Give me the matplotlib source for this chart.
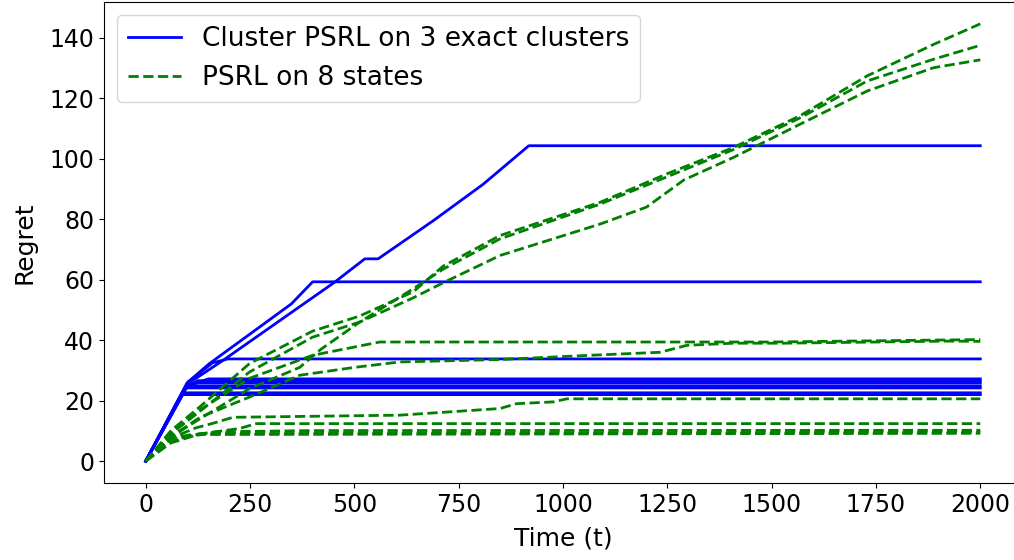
import matplotlib
matplotlib.use("Agg")
import matplotlib.pyplot as plt

# Cluster PSRL runs: (time, regret) breakpoints
cluster_t = [
    [0, 100, 185, 453, 525, 557, 689, 809, 918, 2000],
    [0, 100, 153, 349, 400, 2000],
    [0, 100, 160, 197, 2000],
    [0, 95, 150, 2000],
    [0, 95, 125, 2000],
    [0, 100, 2000],
    [0, 100, 2000],
    [0, 95, 2000],
    [0, 90, 2000],
    [0, 88, 2000],
]
cluster_v = [
    [0, 25.5, 33.3, 59.2, 66.9, 66.9, 79.5, 91.6, 104.3, 104.3],
    [0, 26.0, 32.3, 52.0, 59.3, 59.3],
    [0, 26.0, 32.5, 33.8, 33.8],
    [0, 24.5, 27.2, 27.2],
    [0, 24.0, 26.6, 26.6],
    [0, 25.8, 25.8],
    [0, 24.8, 24.8],
    [0, 24.2, 24.2],
    [0, 22.6, 22.6],
    [0, 22.0, 22.0],
]

# PSRL runs on 8 states
psrl_t = [
    [0, 60, 130, 249, 400, 513, 641, 713, 849, 1089, 1249, 1408, 1568, 1729, 1888, 2000],
    [0, 60, 130, 249, 400, 513, 641, 713, 849, 1089, 1249, 1408, 1568, 1729, 1888, 2000],
    [0, 60, 130, 249, 369, 420, 513, 641, 713, 849, 1089, 1200, 1290, 1408, 1568, 1729, 1888, 2000],
    [0, 60, 130, 249, 400, 561, 1500, 2000],
    [0, 60, 130, 249, 369, 500, 609, 849, 1065, 1233, 1297, 1408, 1528, 1928, 2000],
    [0, 50, 120, 161, 209, 609, 849, 889, 977, 1009, 2000],
    [0, 60, 130, 225, 265, 2000],
    [0, 60, 170, 400, 2000],
    [0, 50, 129, 2000],
    [0, 60, 110, 2000],
]
psrl_v = [
    [0, 10, 18, 32.3, 43, 48, 56, 64.5, 74.6, 85.6, 95, 103.7, 114.2, 127.4, 137.8, 144.6],
    [0, 9, 16.5, 29.5, 41, 46, 57, 63.5, 73.5, 85, 94, 103, 113.5, 125.7, 132.9, 137.5],
    [0, 8, 14, 24, 31, 37, 46, 54, 59, 68, 78.4, 84, 93, 100.4, 111.4, 122.4, 130.1, 132.7],
    [0, 9, 17, 27.4, 35, 39.4, 39.4, 40.2],
    [0, 8, 14.5, 21.2, 28.4, 31, 32.8, 33.6, 35, 36, 38.3, 39, 39, 39.7, 39.6],
    [0, 7, 11, 12.5, 14.5, 15.2, 17.4, 19, 19.6, 20.6, 20.6],
    [0, 6, 9, 10.8, 12.4, 12.4],
    [0, 7, 9.7, 10.1, 10.2],
    [0, 6.5, 9.1, 9.6],
    [0, 7.5, 8.8, 9.2],
]

fig = plt.figure(figsize=(10.14, 5.6), dpi=100)
# the source image is cropped on the right, so the axes run past the canvas edge
ax = fig.add_axes([104 / 1014, 77 / 560, 918 / 1014, 481 / 560])

for i, (t, v) in enumerate(zip(cluster_t, cluster_v)):
    ax.plot(t, v, "b-", lw=2, label="Cluster PSRL on 3 exact clusters" if i == 0 else None)
for i, (t, v) in enumerate(zip(psrl_t, psrl_v)):
    ax.plot(t, v, "g--", lw=2, label="PSRL on 8 states" if i == 0 else None)

ax.spines["right"].set_visible(False)
ax.set_xticks([0, 250, 500, 750, 1000, 1250, 1500, 1750, 2000])
ax.set_yticks([0, 20, 40, 60, 80, 100, 120, 140])
ax.tick_params(labelsize=17)
ax.set_xlabel("Time (t)", fontsize=18, labelpad=7)
ax.set_ylabel("Regret", fontsize=18, labelpad=9)
ax.legend(loc="upper left", fontsize=19)

fig.savefig("out.png", dpi=100)
